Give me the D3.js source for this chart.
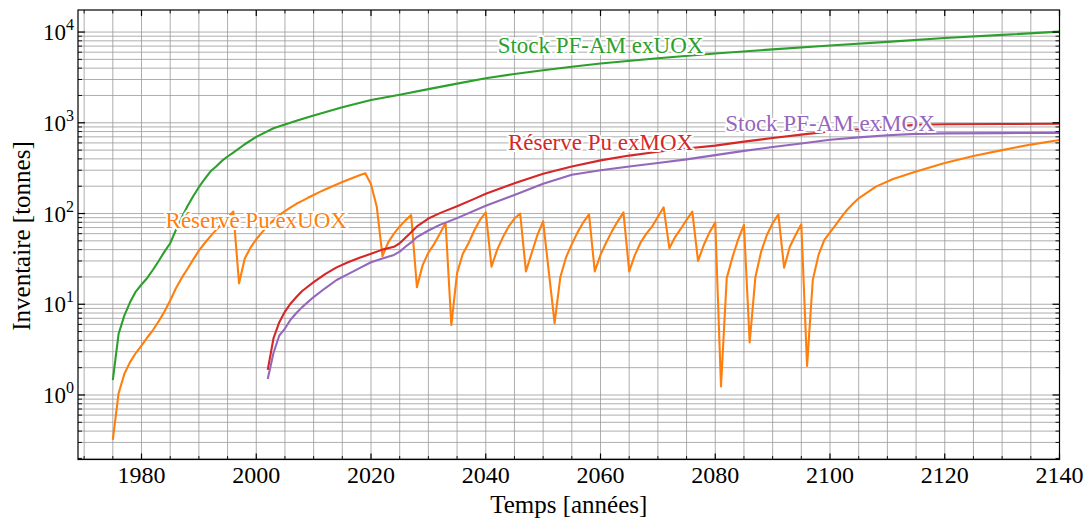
<!DOCTYPE html>
<html><head><meta charset="utf-8">
<script src="https://cdn.jsdelivr.net/npm/d3@7"></script>
<style>html,body{margin:0;padding:0;background:#fff} svg{display:block}</style>
</head><body>
<svg id="chart" width="1091" height="520"></svg>
<script>
// ---------- data ----------
const yearsStockUOX = [1975,1976,1977,1978,1979,1980,1981,1982,1983,1984,1985,1986,1987,1988,1989,1990,1991,1992,1993,1994,1995,1996,1998,2000,2003,2007,2010,2015,2020,2025,2030,2035,2040,2045,2050,2055,2060,2070,2080,2090,2100,2110,2120,2130,2140];
const stockUOX = [1.46,4.7,7.5,10.5,13.8,16.5,19.5,24,30,38,47,66,90,120,155,195,240,290,330,380,425,470,580,700,870,1050,1200,1480,1780,2040,2350,2700,3100,3450,3800,4150,4500,5150,5800,6450,7100,7800,8600,9300,10100];

const yearsReserveUOX = [1975,1976,1977,1978,1979,1980,1981,1982,1983,1984,1985,1986,1987,1988,1989,1990,1991,1992,1993,1994,1995,1996,1997,1998,1999,2000,2001,2002,2003,2004,2005,2006,2007,2008,2009,2010,2011,2012,2013,2014,2015,2016,2017,2018,2019,
 2020,2021,2022,2023,2024,2025,2026,2027,2028,2029,2030,2031,2032,2033,2034,2035,2036,2037,2038,2039,2040,2041,2042,2043,2044,2045,2046,2047,2048,2049,2050,2051,2052,2053,2054,2055,2056,2057,2058,2059,2060,2061,2062,2063,2064,2065,2066,2067,2068,2069,2070,2071,2072,2073,2074,2075,2076,2077,2078,2079,2080,2081,2082,2083,2084,2085,2086,2087,2088,2089,2090,2091,2092,2093,2094,2095,2096,2097,2098,2099,2100,2101,2102,2103,2104,2105,2108,2111,2115,2120,2125,2130,2135,2140];
const reserveUOX = [0.32,1.04,1.7,2.3,2.9,3.5,4.3,5.2,6.5,8.3,11,15,19.5,24.5,31,39,47,56,66,77,90,105,17,32,42,52,62,74,84,96,106,117,128,138,149,160,172,184,196,209,222,236,250,264,278,
 210,119,34,48,60,72,84,96,15.4,27,37,46,60,79,5.9,22,36,47,65,85,103,26,40,55,72,88,100,23,36.5,58,82,22.5,6.2,20,33,46,62,80,98,23,35,48,64,82,103,23,35,48,60,72,92,117,41.5,55,68,85,105,30,45,62,79.5,1.24,19.4,33,52,75,3.8,20,38,58,78,98,25.3,43,58,76,2.09,18.5,35,51,62,75,92,110,128,147,198,240,290,360,431,500,575,647];

const yearsReserveMOX = [2002,2003,2004,2005,2006,2007,2008,2010,2012,2014,2016,2018,2020,2022,2024,2025,2026,2027,2028,2030,2032,2035,2038,2040,2045,2050,2055,2060,2065,2070,2075,2080,2085,2090,2095,2100,2105,2110,2115,2120,2130,2140];
const reserveMOX = [1.89,4.2,6.3,8.3,10.2,12,14,17.5,21.5,25.5,29,32.5,36,40,43,47,54,62,72,88,101,120,145,165,215,275,330,385,435,480,520,560,620,680,740,800,850,900,950,965,970,975];

const yearsStockMOX = [2002,2003,2004,2005,2006,2007,2008,2010,2012,2014,2016,2018,2020,2022,2024,2025,2026,2027,2028,2030,2032,2035,2040,2045,2050,2055,2060,2065,2070,2075,2080,2085,2090,2095,2100,2105,2110,2115,2120,2130,2140];
const stockMOX = [1.5,2.9,4.5,5.4,6.8,8,9.3,12,15,18.5,21.5,25,29,32,35,38,43,48,55,65,75,89,122,160,213,267,300,330,360,395,440,490,540,590,650,690,730,755,765,770,775];

const seriesNames = ["Stock PF-AM exUOX","Réserve Pu exUOX","Réserve Pu exMOX","Stock PF-AM exMOX"];
const seriesColors = ["#2ca02c","#ff7f0e","#d62728","#9467bd"];
const labelYears = [2060,2000,2060,2100];
const labelValues = [5900,68.9,502,820];

const xMajorTicks = [1980,2000,2020,2040,2060,2080,2100,2120,2140];
const xMinorTicks = d3.range(1970,2141,5).filter(v => !xMajorTicks.includes(v));
const yMajorTicks = [1,10,100,1000,10000];
const yMajorExp = ["0","1","2","3","4"];

// ---------- layout ----------
const svg = d3.select("#chart");
const L = 78, R = 1059.5, T = 10, B = 459.5;
const x = d3.scaleLinear().domain([1968.93, 2140]).range([L, R]);
const y = d3.scaleLog().domain([Math.pow(10,-0.711), Math.pow(10,4.243)]).range([B, T]);
const yMinorTicks = [];
for (let e = -1; e <= 4; e++) for (let k = 2; k <= 9; k++) {
  const v = k * Math.pow(10, e);
  if (v >= y.domain()[0] && v <= y.domain()[1]) yMinorTicks.push(v);
}
const FONT = "'Liberation Serif', 'Times New Roman', serif";

svg.append("defs").append("clipPath").attr("id","clip")
  .append("rect").attr("x",L).attr("y",T).attr("width",R-L).attr("height",B-T);

// grid
const grid = svg.append("g").attr("stroke","#999").attr("stroke-width",0.8);
xMajorTicks.concat(xMinorTicks).forEach(v => {
  grid.append("line").attr("x1",x(v)).attr("x2",x(v)).attr("y1",T).attr("y2",B);
});
yMajorTicks.concat(yMinorTicks).forEach(v => {
  grid.append("line").attr("x1",L).attr("x2",R).attr("y1",y(v)).attr("y2",y(v));
});

// lines
const line = d3.line().x(d => x(d[0])).y(d => y(d[1]));
const allSeries = [
  d3.zip(yearsStockUOX, stockUOX),
  d3.zip(yearsReserveUOX, reserveUOX),
  d3.zip(yearsReserveMOX, reserveMOX),
  d3.zip(yearsStockMOX, stockMOX)
];
const plot = svg.append("g").attr("clip-path","url(#clip)");
allSeries.forEach((s,i) => {
  plot.append("path").datum(s).attr("d",line).attr("fill","none")
    .attr("stroke",seriesColors[i]).attr("stroke-width",2.1).attr("stroke-linejoin","round");
});

// in-line labels
seriesNames.forEach((n,i) => {
  svg.append("text").attr("x",x(labelYears[i])).attr("y",y(labelValues[i]))
    .attr("text-anchor","middle").attr("font-family",FONT).attr("font-size",23)
    .attr("fill",seriesColors[i]).attr("stroke","#fff").attr("stroke-width",4)
    .attr("paint-order","stroke").attr("stroke-linejoin","round").text(n);
});

// frame
svg.append("rect").attr("x",L).attr("y",T).attr("width",R-L).attr("height",B-T)
  .attr("fill","none").attr("stroke","#000").attr("stroke-width",1.2);

// ticks (inside, all four sides)
const tk = svg.append("g").attr("stroke","#000");
xMajorTicks.forEach(v => {
  tk.append("line").attr("x1",x(v)).attr("x2",x(v)).attr("y1",B).attr("y2",B-6).attr("stroke-width",1.2);
  tk.append("line").attr("x1",x(v)).attr("x2",x(v)).attr("y1",T).attr("y2",T+6).attr("stroke-width",1.2);
});
xMinorTicks.forEach(v => {
  tk.append("line").attr("x1",x(v)).attr("x2",x(v)).attr("y1",B).attr("y2",B-3.5).attr("stroke-width",0.9);
  tk.append("line").attr("x1",x(v)).attr("x2",x(v)).attr("y1",T).attr("y2",T+3.5).attr("stroke-width",0.9);
});
yMajorTicks.forEach(v => {
  tk.append("line").attr("x1",L).attr("x2",L+7).attr("y1",y(v)).attr("y2",y(v)).attr("stroke-width",1.2);
  tk.append("line").attr("x1",R).attr("x2",R-7).attr("y1",y(v)).attr("y2",y(v)).attr("stroke-width",1.2);
});
yMinorTicks.forEach(v => {
  tk.append("line").attr("x1",L).attr("x2",L+4).attr("y1",y(v)).attr("y2",y(v)).attr("stroke-width",0.9);
  tk.append("line").attr("x1",R).attr("x2",R-4).attr("y1",y(v)).attr("y2",y(v)).attr("stroke-width",0.9);
});

// tick labels
xMajorTicks.forEach(v => {
  svg.append("text").attr("x",x(v)).attr("y",483).attr("text-anchor","middle")
    .attr("font-family",FONT).attr("font-size",24).attr("fill","#000").text(v);
});
yMajorTicks.forEach((v,i) => {
  const t = svg.append("text").attr("x",74).attr("y",y(v)+8).attr("text-anchor","end")
    .attr("font-family",FONT).attr("font-size",23).attr("fill","#000");
  t.append("tspan").text("10");
  t.append("tspan").attr("dy",-10).attr("font-size",16).text(yMajorExp[i]);
});

// axis titles
svg.append("text").attr("x",(L+R)/2).attr("y",513).attr("text-anchor","middle")
  .attr("font-family",FONT).attr("font-size",25).attr("fill","#000").text("Temps [années]");
svg.append("text").attr("transform","translate(30,236) rotate(-90)").attr("text-anchor","middle")
  .attr("font-family",FONT).attr("font-size",25).attr("fill","#000").text("Inventaire [tonnes]");
</script>
</body></html>
